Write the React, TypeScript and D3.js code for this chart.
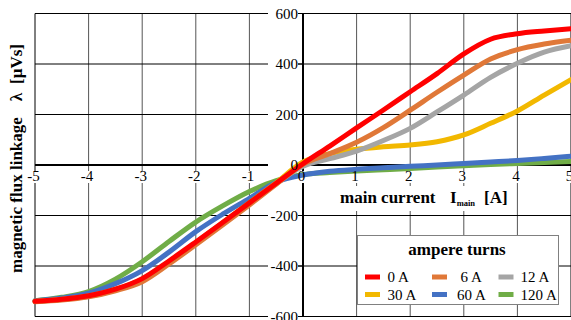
import React, { useEffect, useRef } from 'react';
import * as d3 from 'd3';

// main current [A]
const current = [-5, -4.5, -4, -3.5, -3, -2.5, -2, -1.5, -1, -0.5, 0, 0.5, 1, 1.5, 2, 2.5, 3, 3.5, 4, 4.5, 5];

// flux linkage [µVs] per ampere-turn setting
const flux0A = [-540, -532, -518, -492, -450, -380, -305, -228, -150, -72, 5, 75, 147, 218, 290, 362, 440, 498, 520, 531, 540];
const flux6A = [-542, -535, -522, -498, -462, -392, -316, -238, -158, -76, 3, 45, 90, 148, 217, 288, 356, 420, 457, 479, 494];
const flux12A = [-541, -533, -520, -495, -456, -386, -310, -232, -154, -74, -5, 25, 55, 97, 145, 210, 277, 347, 403, 447, 472];
const flux30A = [-540, -532, -519, -493, -452, -383, -307, -229, -150, -70, 12, 45, 62, 72, 79, 92, 119, 165, 214, 277, 338];
const flux60A = [-538, -527, -508, -470, -418, -345, -264, -195, -132, -68, -40, -25, -17, -11, -5, 0, 6, 12, 18, 26, 35];
const flux120A = [-538, -524, -501, -452, -383, -303, -226, -162, -105, -62, -38, -30, -24, -19, -14, -8, -3, 2, 6, 10, 14];

const seriesNames = ['0 A', '6 A', '12 A', '30 A', '60 A', '120 A'];
const seriesColors = ['#ff0000', '#e07838', '#a5a5a5', '#f2b800', '#4472c4', '#70ad47'];
const seriesValues = [flux0A, flux6A, flux12A, flux30A, flux60A, flux120A];

const xTicks = [-5, -4, -3, -2, -1, 0, 1, 2, 3, 4, 5];
const yTicks = [600, 400, 200, 0, -200, -400, -600];

const FONT = "'Liberation Serif', 'Times New Roman', Times, 'DejaVu Serif', serif";

const FluxChart = () => {
  const svgRef = useRef<SVGSVGElement>(null);

  useEffect(() => {
    const svg = d3.select(svgRef.current);
    svg.selectAll('*').remove();

    const x = d3.scaleLinear().domain([-5, 5]).range([35, 571]);
    const y = d3.scaleLinear().domain([-600, 600]).range([316.5, 13.5]);

    svg.append('rect').attr('width', 571).attr('height', 320).attr('fill', '#fff');

    // grid
    const grid = svg.append('g').attr('stroke', '#000').attr('stroke-width', 1);
    grid.selectAll('.vgrid')
      .data(xTicks.filter(d => d !== 0))
      .enter().append('line')
      .attr('x1', d => x(d)).attr('x2', d => x(d))
      .attr('y1', y(600)).attr('y2', y(-600))
      .attr('stroke', d => (d === -5 || d === 5 ? '#000' : '#555'));
    grid.selectAll('.hgrid')
      .data(yTicks.filter(d => d !== 0))
      .enter().append('line')
      .attr('x1', x(-5)).attr('x2', x(5))
      .attr('y1', d => y(d)).attr('y2', d => y(d));

    // axes through origin
    svg.append('line')
      .attr('x1', x(-5)).attr('x2', x(5))
      .attr('y1', y(0)).attr('y2', y(0))
      .attr('stroke', '#000').attr('stroke-width', 2);
    svg.append('line')
      .attr('x1', x(0)).attr('x2', x(0))
      .attr('y1', y(600)).attr('y2', y(-600))
      .attr('stroke', '#000').attr('stroke-width', 2);
    svg.selectAll('.ytick')
      .data(yTicks)
      .enter().append('line')
      .attr('x1', x(0) - 5).attr('x2', x(0))
      .attr('y1', d => y(d)).attr('y2', d => y(d))
      .attr('stroke', '#000');

    // white boxes behind labels
    const boxes = svg.append('g').attr('fill', '#fff');
    boxes.selectAll('.ybox')
      .data(yTicks)
      .enter().append('rect')
      .attr('x', x(0) - 35).attr('width', 30)
      .attr('y', d => y(d) - 6).attr('height', 12);
    boxes.selectAll('.xbox')
      .data(xTicks)
      .enter().append('rect')
      .attr('x', d => x(d) - 1.5 - (String(d).length * 7 + 2) / 2)
      .attr('width', d => String(d).length * 7 + 2)
      .attr('y', y(0) + 6).attr('height', 12);
    boxes.append('rect').attr('x', 336).attr('y', 186).attr('width', 178).attr('height', 25);

    // curves, 120 A first so that 0 A ends on top
    const line = d3.line<number>()
      .x((d, i) => x(current[i]))
      .y(d => y(d))
      .curve(d3.curveMonotoneX);

    const order = d3.range(seriesValues.length).reverse();
    svg.append('g')
      .selectAll('path')
      .data(order)
      .enter().append('path')
      .attr('d', i => line(seriesValues[i]))
      .attr('fill', 'none')
      .attr('stroke', i => seriesColors[i])
      .attr('stroke-width', 5)
      .attr('stroke-linecap', 'round')
      .attr('stroke-linejoin', 'round');

    const labels = svg.append('g').style('font-family', FONT);

    // tick labels
    labels.selectAll('.ylabel')
      .data(yTicks)
      .enter().append('text')
      .attr('x', x(0) - 5).attr('y', d => y(d) + 5)
      .attr('text-anchor', 'end')
      .style('font-size', '15px')
      .text(d => String(d));
    labels.selectAll('.xlabel')
      .data(xTicks)
      .enter().append('text')
      .attr('x', d => x(d) - 1.5).attr('y', y(0) + 16)
      .attr('text-anchor', 'middle')
      .style('font-size', '15px')
      .text(d => String(d));

    // axis titles
    const xt = labels.append('text')
      .style('font-weight', 'bold').style('font-size', '17px')
      .attr('y', 203);
    xt.append('tspan').attr('x', 340).text('main current');
    xt.append('tspan').attr('x', 450).text('I');
    xt.append('tspan').style('font-size', '8.5px').attr('dy', 3).text('main');
    xt.append('tspan').attr('x', 484).attr('dy', -3).text('[A]');

    const yTitle = labels.append('g')
      .style('font-weight', 'bold').style('font-size', '17px');
    yTitle.append('text').attr('transform', 'translate(22,273) rotate(-90)').text('magnetic flux linkage');
    yTitle.append('text').attr('transform', 'translate(22,97) rotate(-90)')
      .attr('text-anchor', 'middle').text('λ');
    yTitle.append('text').attr('transform', 'translate(22,84) rotate(-90)').text('[µVs]');

    // legend
    const legend = labels.append('g');
    legend.append('rect')
      .attr('x', 357.5).attr('y', 235.5).attr('width', 201).attr('height', 69)
      .attr('fill', '#fff').attr('stroke', '#808080');
    legend.append('text')
      .attr('x', 457).attr('y', 255)
      .attr('text-anchor', 'middle')
      .style('font-weight', 'bold').style('font-size', '17px')
      .text('ampere turns');
    const colSwatch = [365, 432, 498.5];
    const colText = [387.5, 457, 520.5];
    const rowY = [277, 294.5];
    const items = legend.selectAll('.item')
      .data(seriesNames)
      .enter().append('g')
      .attr('transform', (d, i) => `translate(0,${rowY[Math.floor(i / 3)]})`);
    items.append('line')
      .attr('x1', (d, i) => colSwatch[i % 3]).attr('x2', (d, i) => colSwatch[i % 3] + 15)
      .attr('stroke', (d, i) => seriesColors[i]).attr('stroke-width', 5);
    items.append('text')
      .attr('x', (d, i) => colText[i % 3] + (d.length === 3 && i % 3 === 1 ? 3.5 : 0))
      .attr('y', 5)
      .style('font-size', '15px')
      .text(d => d);
  }, []);

  return <svg ref={svgRef} width={571} height={320} style={{ position: 'absolute', left: 0, top: 0 }} />;
};

export default function App() {
  return <FluxChart />;
}
